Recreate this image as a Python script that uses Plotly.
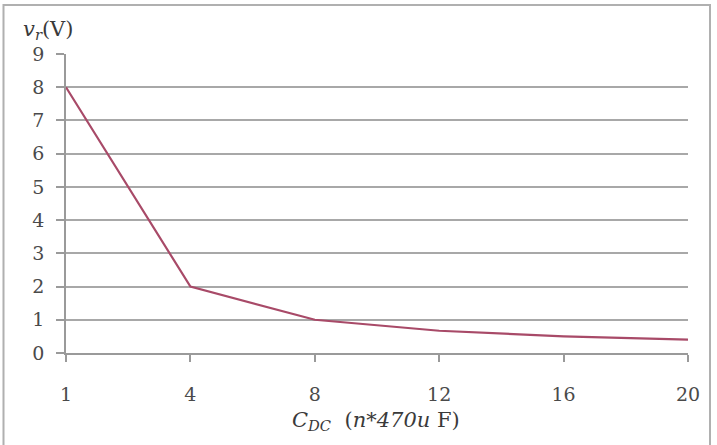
import plotly.graph_objects as go

categories = ["1", "4", "8", "12", "16", "20"]
vr_values = [8.0, 2.0, 1.0, 0.67, 0.5, 0.4]
y_ticks = [0, 1, 2, 3, 4, 5, 6, 7, 8, 9]

L, R, T, B = 66, 29, 54, 92
W, H = 717, 445
pw, ph = W - L - R, H - T - B

def px(x):
    return (x - L) / pw

def py(y):
    return (H - B - y) / ph

fig = go.Figure()
fig.add_trace(go.Scatter(
    x=categories, y=vr_values, mode="lines",
    line=dict(color="#a84a68", width=2.2),
    showlegend=False,
))

font_family = "DejaVu Serif"
tick_font = dict(family=font_family, size=19, color="#4a4a4a")
fig.update_layout(
    width=W, height=H,
    margin=dict(l=L, r=R, t=T, b=B),
    paper_bgcolor="white", plot_bgcolor="white",
    font=dict(family=font_family, size=19, color="#4a4a4a"),
    xaxis=dict(
        type="category", range=[0, 5],
        showgrid=False, zeroline=False,
        showline=True, linecolor="#9a9a9a", linewidth=1.5,
        ticks="outside", ticklen=7, tickcolor="#9a9a9a", tickwidth=1.5,
        ticklabelstandoff=16,
        tickfont=tick_font,
    ),
    yaxis=dict(
        range=[0, 9], tickvals=y_ticks,
        showgrid=True, gridcolor="#a8a8a8", gridwidth=1.5,
        zeroline=False,
        showline=True, linecolor="#9a9a9a", linewidth=1.5,
        ticks="outside", ticklen=8, tickcolor="#9a9a9a", tickwidth=1.5,
        ticklabelstandoff=8,
        tickfont=tick_font,
    ),
    shapes=[dict(
        type="rect", xref="paper", yref="paper",
        x0=px(3.5), x1=px(710), y0=py(460), y1=py(5),
        line=dict(color="#b0b0b0", width=2), fillcolor="rgba(0,0,0,0)",
        layer="below",
    )],
    annotations=[
        dict(xref="paper", yref="paper", x=px(21), y=py(30),
             xanchor="left", yanchor="middle", showarrow=False,
             text="<i>v<sub>r</sub></i>(V)",
             font=dict(family=font_family, size=21, color="#3a3a3a")),
        dict(xref="paper", yref="paper", x=px(376), y=py(421),
             xanchor="center", yanchor="middle", showarrow=False,
             text="<i>C<sub>DC</sub></i>  (<i>n*470u</i> F)",
             font=dict(family=font_family, size=21, color="#3a3a3a")),
    ],
)

fig.write_html("out.html")
